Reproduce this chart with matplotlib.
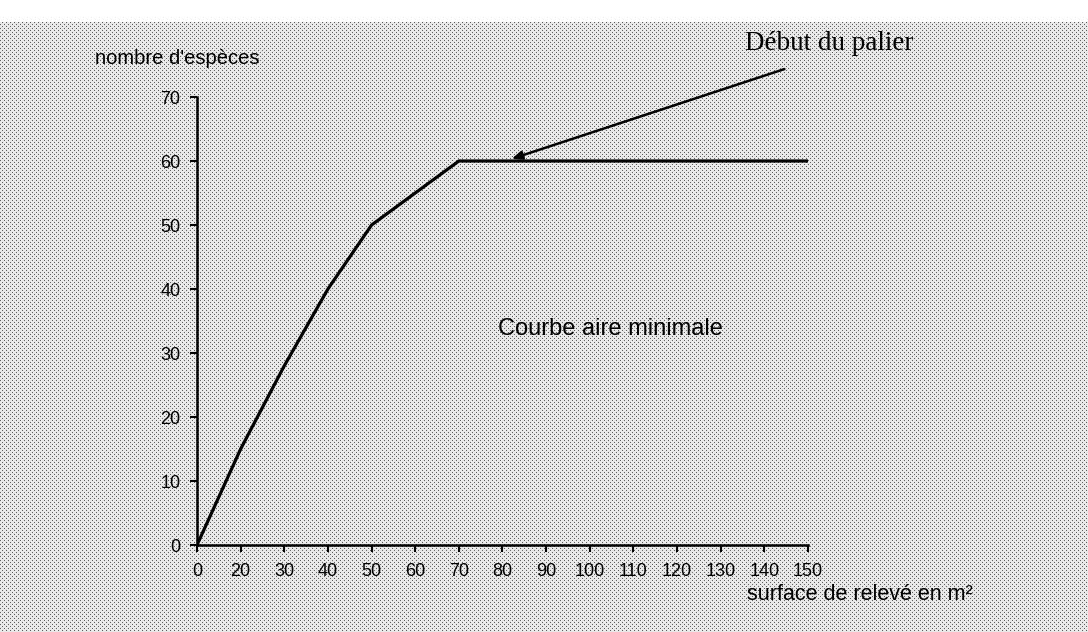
import numpy as np
import matplotlib
matplotlib.use('Agg')
import matplotlib.pyplot as plt

# surface de relevé (categories, equally spaced on the axis)
surface = ['0', '20', '30', '40', '50', '60', '70', '80', '90',
           '100', '110', '120', '130', '140', '150']
# nombre d'espèces
especes = [0, 15, 28, 40, 50, 55, 60, 60, 60, 60, 60, 60, 60, 60, 60]

y_ticks = [0, 10, 20, 30, 40, 50, 60, 70]

plt.rcParams['font.family'] = ['Liberation Sans', 'DejaVu Sans']

W, H = 1088, 632
fig = plt.figure(figsize=(W / 100, H / 100), dpi=100)

# halftone-like scanned background
bg = fig.add_axes([0, 0, 1, 1])
ii, jj = np.mgrid[0:H, 0:W]
tex = np.full((H, W), 0.91)
dots = ((ii % 4 == 0) & (jj % 4 == 0)) | ((ii % 4 == 2) & (jj % 4 == 2))
tex[dots] = 0.38
tex[:22, :] = 1.0
bg.imshow(tex, cmap='gray', vmin=0, vmax=1, interpolation='nearest',
          aspect='auto', extent=[0, W, H, 0])
bg.set_axis_off()

ax = fig.add_axes([197 / W, (H - 545) / H, (808 - 197) / W, (545 - 97) / H])
ax.patch.set_alpha(0)
pos = np.arange(len(surface))
ax.plot(pos, especes, color='black', lw=2.3, solid_joinstyle='miter')

ax.set_xlim(0, len(surface) - 1)
ax.set_ylim(0, 70)
ax.set_xticks(pos)
ax.set_xticklabels(surface)
ax.set_yticks(y_ticks)
for s in ['top', 'right']:
    ax.spines[s].set_visible(False)
for s in ['left', 'bottom']:
    ax.spines[s].set_linewidth(1.8)
ax.tick_params(axis='both', width=1.5, length=5, labelsize=13, colors='black')
ax.tick_params(axis='x', pad=8)
ax.tick_params(axis='y', pad=7)

fig.text(95 / W, 1 - 58 / H, "nombre d'espèces", fontsize=14.5, va='center', ha='left')
fig.text(747 / W, 1 - 594 / H, 'surface de relevé en m²', fontsize=15.5,
         va='center', ha='left')
fig.text(610 / W, 1 - 329 / H, 'Courbe aire minimale', fontsize=17,
         va='center', ha='center')

ax.annotate('', xy=(7.15, 60.2), xytext=(13.52, 74.5), annotation_clip=False,
            arrowprops=dict(arrowstyle='-|>,head_length=0.6,head_width=0.25',
                            color='black', lw=1.8))
fig.text(745 / W, 1 - 43 / H, 'Début du palier', fontsize=19.5,
         family='Liberation Serif', va='center', ha='left')

fig.savefig('out.png', dpi=100)
